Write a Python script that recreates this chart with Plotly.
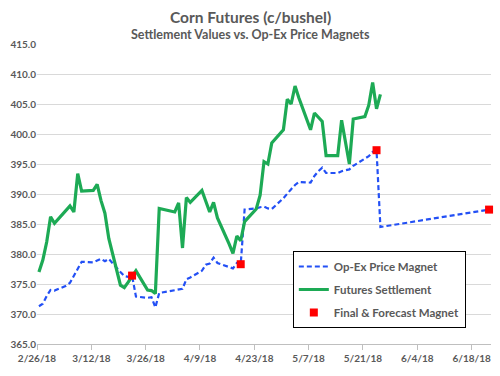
import pandas as pd
import plotly.graph_objects as go

# ---------------- data ----------------
settle_dates = [
    "2018-02-26", "2018-02-27", "2018-02-28", "2018-03-01", "2018-03-02",
    "2018-03-05", "2018-03-06", "2018-03-07", "2018-03-08", "2018-03-09",
    "2018-03-12", "2018-03-13", "2018-03-14", "2018-03-15", "2018-03-16",
    "2018-03-19", "2018-03-20", "2018-03-21", "2018-03-22", "2018-03-23",
    "2018-03-26", "2018-03-27", "2018-03-28", "2018-03-29",
    "2018-04-02", "2018-04-03", "2018-04-04", "2018-04-05", "2018-04-06",
    "2018-04-09", "2018-04-10", "2018-04-11", "2018-04-12", "2018-04-13",
    "2018-04-16", "2018-04-17", "2018-04-18", "2018-04-19", "2018-04-20",
    "2018-04-23", "2018-04-24", "2018-04-25", "2018-04-26", "2018-04-27",
    "2018-04-30", "2018-05-01", "2018-05-02", "2018-05-03", "2018-05-04",
    "2018-05-07", "2018-05-08", "2018-05-09", "2018-05-10", "2018-05-11",
    "2018-05-14", "2018-05-15", "2018-05-16", "2018-05-17", "2018-05-18",
    "2018-05-21", "2018-05-22", "2018-05-23", "2018-05-24", "2018-05-25",
]
settle_values = [
    377.0, 379.0, 382.0, 386.2, 385.1,
    387.3, 388.0, 387.0, 393.4, 390.5,
    390.6, 391.6, 388.9, 386.8, 382.6,
    374.8, 374.4, 375.3, 376.2, 377.2,
    374.0, 373.9, 373.4, 387.6,
    387.0, 388.5, 381.0, 389.4, 388.6,
    390.6, 388.8, 387.0, 388.6, 386.0,
    381.7, 380.1, 383.0, 382.2, 385.4,
    387.5, 389.8, 395.4, 395.0, 398.5,
    400.7, 405.8, 405.0, 408.0, 406.0,
    400.7, 403.5, 402.8, 402.1, 396.4,
    396.4, 402.3, 398.6, 395.0, 402.5,
    402.9, 404.8, 408.6, 404.2, 406.6,
]

magnet_dates = [
    "2018-02-26", "2018-02-27", "2018-02-28", "2018-03-01", "2018-03-02",
    "2018-03-05", "2018-03-06", "2018-03-07", "2018-03-08", "2018-03-09",
    "2018-03-12", "2018-03-13", "2018-03-14", "2018-03-15", "2018-03-16",
    "2018-03-19", "2018-03-20", "2018-03-21", "2018-03-22", "2018-03-23",
    "2018-03-26", "2018-03-27", "2018-03-28", "2018-03-29",
    "2018-04-02", "2018-04-03", "2018-04-04", "2018-04-05", "2018-04-06",
    "2018-04-09", "2018-04-10", "2018-04-11", "2018-04-12", "2018-04-13",
    "2018-04-16", "2018-04-17", "2018-04-18", "2018-04-19", "2018-04-20",
    "2018-04-23", "2018-04-24", "2018-04-25", "2018-04-26", "2018-04-27",
    "2018-04-30", "2018-05-01", "2018-05-02", "2018-05-03", "2018-05-04",
    "2018-05-07", "2018-05-08", "2018-05-09", "2018-05-10", "2018-05-11",
    "2018-05-14", "2018-05-15", "2018-05-16", "2018-05-17", "2018-05-18",
    "2018-05-21", "2018-05-22", "2018-05-23", "2018-05-24", "2018-05-25",
    "2018-06-22",
]
magnet_values = [
    371.3, 371.7, 373.0, 374.0, 373.9,
    374.7, 375.2, 376.4, 377.6, 378.7,
    378.6, 378.9, 379.2, 378.8, 379.2,
    377.0, 376.3, 376.2, 376.4, 372.9,
    372.7, 372.8, 371.1, 373.5,
    373.9, 374.1, 374.2, 375.8, 376.1,
    377.2, 378.2, 378.4, 379.4, 378.5,
    377.9, 377.6, 378.5, 378.3, 387.4,
    387.6, 387.8, 387.9, 387.6, 387.5,
    389.3, 390.1, 390.8, 391.5, 392.0,
    391.9, 393.0, 393.8, 394.4, 393.5,
    393.5, 393.8, 394.0, 394.1, 394.7,
    395.9, 396.3, 397.0, 397.3, 384.5,
    387.4,
]

final_dates = ["2018-03-22", "2018-04-19", "2018-05-24", "2018-06-22"]
final_values = [376.4, 378.3, 397.3, 387.4]

tick_dates = ["2018-02-26", "2018-03-12", "2018-03-26", "2018-04-09", "2018-04-23",
              "2018-05-07", "2018-05-21", "2018-06-04", "2018-06-18"]
tick_labels = ["2/26/18", "3/12/18", "3/26/18", "4/9/18", "4/23/18",
               "5/7/18", "5/21/18", "6/4/18", "6/18/18"]

# Points sit in the middle of each day's slot (Excel date axis "between tick marks")
half_day = pd.Timedelta(hours=12)
def centered(ds):
    return pd.to_datetime(ds) + half_day

TXT = "#595959"
FONT = "Lato"

fig = go.Figure()
fig.add_trace(go.Scatter(
    x=centered(magnet_dates), y=magnet_values, mode="lines",
    name="Op-Ex Price Magnet", legendgroup="a",
    line=dict(color="#2350F5", width=2.2, dash="5px,3px"),
))
fig.add_trace(go.Scatter(
    x=centered(settle_dates), y=settle_values, mode="lines",
    name="Futures Settlement", legendgroup="b",
    line=dict(color="#1DAA55", width=3.2),
))
fig.add_trace(go.Scatter(
    x=centered(final_dates), y=final_values, mode="markers",
    name="Final & Forecast Magnet", legendgroup="c",
    marker=dict(color="#FF0000", size=8, symbol="square", line=dict(width=0)),
    cliponaxis=False,
))

fig.update_layout(
    width=500, height=376,
    margin=dict(l=37, r=9, t=44, b=32),
    paper_bgcolor="white", plot_bgcolor="white",
    font=dict(family=FONT, color=TXT),
    showlegend=True,
    legend=dict(
        x=0.5635, y=0.31, xanchor="left", yanchor="top",
        bgcolor="white", bordercolor="black", borderwidth=1,
        font=dict(family=FONT, size=11.5, color=TXT, weight="bold"),
        tracegroupgap=4, traceorder="grouped", itemwidth=30,
    ),
    annotations=[
        dict(text="<b>Corn Futures (c/bushel)</b>", xref="paper", yref="paper",
             x=0.4695, y=1.091, xanchor="center", yanchor="middle", showarrow=False,
             font=dict(family=FONT, size=15.5, color=TXT)),
        dict(text="<b>Settlement Values vs. Op-Ex Price Magnets</b>", xref="paper", yref="paper",
             x=0.4695, y=1.03, xanchor="center", yanchor="middle", showarrow=False,
             font=dict(family=FONT, size=12.5, color=TXT)),
    ],
)
fig.update_xaxes(
    type="date", range=["2018-02-26", "2018-06-23"],
    tickvals=pd.to_datetime(tick_dates), ticktext=tick_labels,
    showgrid=False, showline=True, linecolor="#BFBFBF", linewidth=1,
    ticks="outside", ticklen=5, tickcolor="#BFBFBF",
    tickfont=dict(family=FONT, size=10, color=TXT, weight="bold"),
    zeroline=False,
)
fig.update_yaxes(
    range=[365, 415], dtick=5, tick0=365, tickformat=".1f",
    showgrid=True, gridcolor="#D9D9D9", gridwidth=1,
    showline=False, zeroline=False, ticks="",
    tickfont=dict(family=FONT, size=10, color=TXT, weight="bold"),
)

fig.write_html(
    "out.html",
    config={"displayModeBar": False},
    post_script="document.body.style.margin='0';",
)
